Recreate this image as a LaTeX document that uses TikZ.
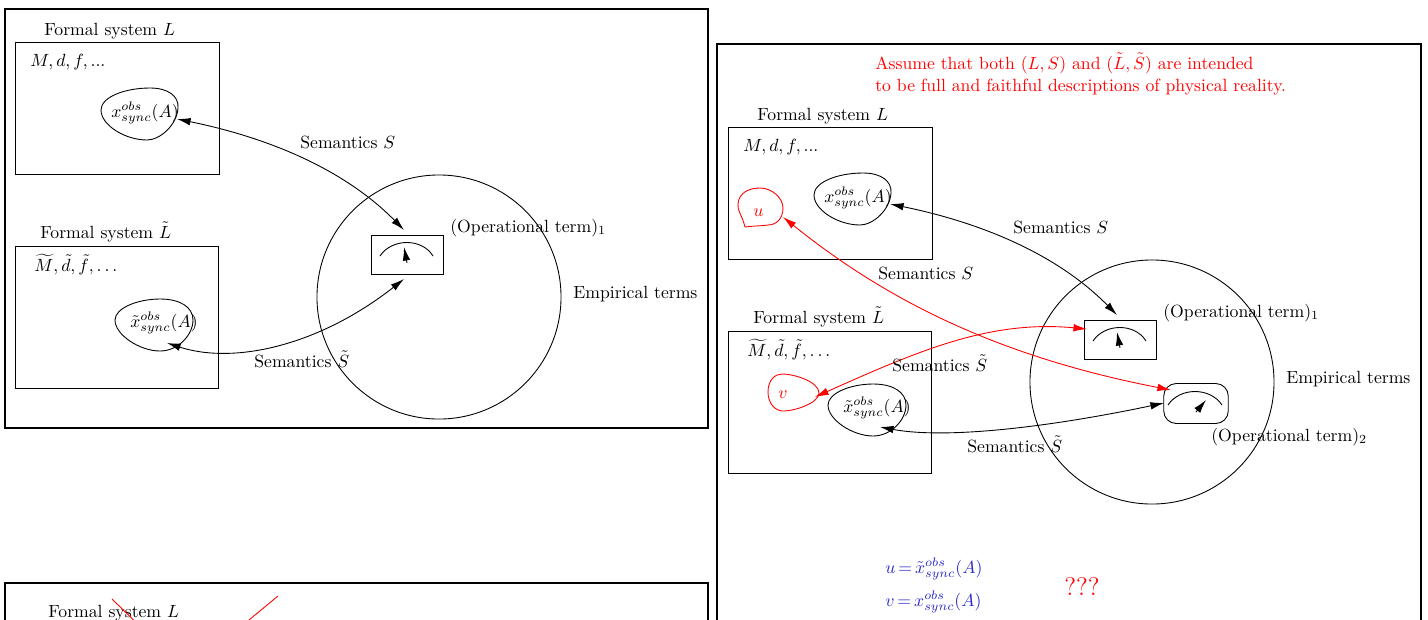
\documentclass[tikz,border=0pt]{standalone}
\usepackage{amsmath}
\usetikzlibrary{arrows.meta,positioning}
\definecolor{eqblue}{RGB}{40,40,200}

\begin{document}
\begin{tikzpicture}[
  x=.0199cm,
  y=-.0199cm,
  frame/.style={draw,line width=1.5pt},
  sysbox/.style={draw,line width=.5pt,inner sep=0pt},
  metbox/.style={sysbox,minimum width=1.433cm,minimum height=.776cm},
  txt/.style={anchor=base west,inner sep=0pt},
  redtxt/.style={txt,text=red},
  bluetxt/.style={txt,text=eqblue},
  blob/.style={draw,line width=.5pt},
  link/.style={{Latex[length=2.7mm,width=1.5mm]}-{Latex[length=2.7mm,width=1.5mm]},line width=.5pt},
  redlink/.style={link,red},
  needle/.style={-{Latex[length=2.7mm,width=1.5mm]},line width=.5pt}
]
\useasboundingbox (0,0) rectangle (1428,619);
\clip (0,0) rectangle (1428,619);

\draw[frame] (5,9) rectangle (708,428);
\draw[frame] (5,583) rectangle (708,700);
\draw[frame] (717,44) rectangle (1421,700);

% left panel
\node[sysbox,minimum width=4.06cm,minimum height=2.627cm] (sysL) at (117,108) {};
\node[sysbox,minimum width=4.04cm,minimum height=2.826cm] (sysT) at (116.5,317) {};
\node[txt] (titleL) at (44,35) {Formal system $L$};
\node[txt] (titleT) at (40,238) {Formal system $\tilde{L}$};
\node[txt] (varsL) at (30,66) {$M,d,f,...$};
\node[txt] (varsT) at (34,271.5) {$\widetilde{M},\tilde{d},\tilde{f},\dots$};

\draw[blob] (101,110) .. controls (101,97) and (125,88) .. (150,88)
  .. controls (168,88) and (179,96) .. (178,108)
  .. controls (177,125) and (160,140) .. (147,140)
  .. controls (125,140) and (101,125) .. (101,110) -- cycle;
\draw[blob] (115,320) .. controls (115,308) and (138,299) .. (160,299)
  .. controls (180,299) and (193,307) .. (193,320)
  .. controls (193,335) and (178,351) .. (160,351)
  .. controls (140,351) and (115,335) .. (115,320) -- cycle;
\node[txt] (obsL) at (111,117) {$x^{obs}_{sync}(A)$};
\node[txt] (obsT) at (130,327) {$\tilde{x}^{obs}_{sync}(A)$};

\node[draw,line width=.5pt,circle,minimum size=4.856cm,inner sep=0pt] (emp) at (439,297) {};
\node[metbox] (met) at (407,254.5) {};
\draw[line width=.5pt] (380,256) .. controls (392,238) and (422,238) .. (433,256);
\draw[needle] (407,263) -- (404,247);

\coordinate (obsLend) at (177,119);
\coordinate (obsTend) at (167,343);
\coordinate (mettop) at (404,230);
\coordinate (metbot) at (404,279);
\draw[link] (obsLend) .. controls (270,138) and (345,170) .. (mettop);
\draw[link] (obsTend) .. controls (235,365) and (320,345) .. (metbot);

\node[txt] (semS) at (300,148.5) {Semantics $S$};
\node[txt] (semT) at (254,367) {Semantics $\tilde{S}$};
\node[txt] (opterm) at (450,232) {(Operational term)$_1$};
\node[txt] (empterm) at (573,298) {Empirical terms};

% right panel
\begin{scope}[shift={(713,85)}]
\node[sysbox,minimum width=4.06cm,minimum height=2.627cm] (sysLb) at (117,108) {};
\node[sysbox,minimum width=4.04cm,minimum height=2.826cm] (sysTb) at (116.5,317) {};
\node[txt] (titleLb) at (44,35) {Formal system $L$};
\node[txt] (titleTb) at (40,238) {Formal system $\tilde{L}$};
\node[txt] (varsLb) at (30,66) {$M,d,f,...$};
\node[txt] (varsTb) at (34,271.5) {$\widetilde{M},\tilde{d},\tilde{f},\dots$};

\draw[blob] (101,110) .. controls (101,97) and (125,88) .. (150,88)
  .. controls (168,88) and (179,96) .. (178,108)
  .. controls (177,125) and (160,140) .. (147,140)
  .. controls (125,140) and (101,125) .. (101,110) -- cycle;
\draw[blob] (115,320) .. controls (115,308) and (138,299) .. (160,299)
  .. controls (180,299) and (193,307) .. (193,320)
  .. controls (193,335) and (178,351) .. (160,351)
  .. controls (140,351) and (115,335) .. (115,320) -- cycle;
\node[txt] (obsLb) at (111,117) {$x^{obs}_{sync}(A)$};
\node[txt] (obsTb) at (130,327) {$\tilde{x}^{obs}_{sync}(A)$};

\node[draw,line width=.5pt,circle,minimum size=4.856cm,inner sep=0pt] (empb) at (439,297) {};
\node[metbox] (metb) at (407,254.5) {};
\draw[line width=.5pt] (380,256) .. controls (392,238) and (422,238) .. (433,256);
\draw[needle] (407,263) -- (404,247);

\coordinate (obsLbend) at (177,119);
\coordinate (mettopb) at (404,230);
\draw[link] (obsLbend) .. controls (270,138) and (345,170) .. (mettopb);

\node[txt] (semSb) at (300,148.5) {Semantics $S$};
\node[txt] (semTb) at (254,367) {Semantics $\tilde{S}$};
\node[txt] (optermb) at (450,232) {(Operational term)$_1$};
\node[txt] (emptermb) at (573,298) {Empirical terms};
\end{scope}

\node[redtxt] (assume1) at (875,69) {Assume that both $(L,S)$ and $(\tilde{L},\tilde{S})$ are intended};
\node[redtxt] (assume2) at (875,91) {to be full and faithful descriptions of physical reality.};

% second instrument
\node[sysbox,rounded corners=2.5mm,minimum width=1.284cm,minimum height=.796cm] (metc) at (1196,403.5) {};
\draw[line width=.5pt] (1168,405) .. controls (1180,387) and (1210,387) .. (1222,405);
\draw[needle] (1196,412) -- (1206,400);
\node[txt] (opterm2) at (1211,441) {(Operational term)$_2$};

% red sets
\draw[blob,red] (745,227) .. controls (742,215) and (737,210) .. (738,204)
  .. controls (739,192) and (750,188) .. (760,188)
  .. controls (772,188) and (783,198) .. (783,208)
  .. controls (783,220) and (775,225) .. (768,225)
  .. controls (760,226) and (752,226) .. (745,227) -- cycle;
\draw[blob,red] (768,392) .. controls (768,380) and (775,374) .. (782,374)
  .. controls (795,374) and (819,382) .. (819,393)
  .. controls (819,403) and (795,411) .. (783,411)
  .. controls (775,411) and (768,403) .. (768,392) -- cycle;
\node[redtxt] (uset) at (753,216) {$u$};
\node[redtxt] (vset) at (778,398) {$v$};

\coordinate (uend) at (783,217);
\coordinate (vend) at (815,397);
\coordinate (metcred) at (1171,390);
\coordinate (metbred) at (1087,329);
\draw[redlink] (uend) .. controls (880,295) and (990,355) .. (metcred);
\draw[redlink] (vend) .. controls (920,350) and (990,320) .. (metbred);

\coordinate (obsTbend) at (880,427);
\coordinate (metcleft) at (1164,403);
\draw[link] (obsTbend) .. controls (950,440) and (1060,425) .. (metcleft);

\node[txt] (semS2) at (878,279.5) {Semantics $S$};
\node[txt] (semT2) at (892,371) {Semantics $\tilde{S}$};

\node[bluetxt] (eqU) at (885,573) {\thickmuskip=3mu $u=\tilde{x}^{obs}_{sync}(A)$};
\node[bluetxt] (eqV) at (885,606) {\thickmuskip=3mu $v=x^{obs}_{sync}(A)$};
\node[redtxt,font=\Large] (qmarks) at (1064,595) {???};

% bottom panel
\node[txt] (titleLc) at (48,617) {Formal system $L$};
\draw[red,line width=.5pt] (112,599) -- (153,639);
\draw[red,line width=.5pt] (278,596) -- (226,639);
\end{tikzpicture}
\end{document}
